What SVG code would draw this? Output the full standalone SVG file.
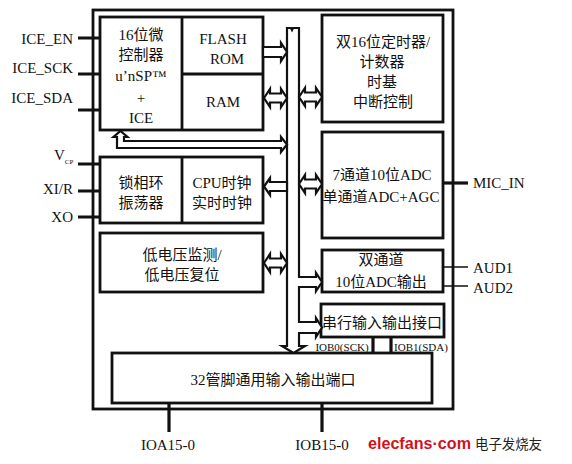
<svg xmlns="http://www.w3.org/2000/svg" width="572" height="464" viewBox="0 0 572 464">
<style>
.box{fill:none;stroke:#111;stroke-width:2.8}
.t{font-family:"Liberation Serif","Noto Sans CJK SC",serif;font-size:15px;fill:#111;text-anchor:middle}
.pl{font-family:"Liberation Serif","Noto Sans CJK SC",serif;font-size:15px;fill:#111;text-anchor:end}
.pr{font-family:"Liberation Serif","Noto Sans CJK SC",serif;font-size:15px;fill:#111;text-anchor:start}
.sm{font-family:"Liberation Serif","Noto Sans CJK SC",serif;font-size:11px;fill:#111;text-anchor:middle}
.ha{fill:#fff;stroke:#111;stroke-width:2.2;stroke-linejoin:miter}
.pin{stroke:#111;stroke-width:3.2;fill:none}
.thin{stroke:#111;stroke-width:1.6;fill:none}
</style>
<rect width="572" height="464" fill="#fff"/>
<g id="chip"><rect class="box" x="93" y="10" width="360" height="399"/></g>
<g id="mcu">
<rect class="box" x="100" y="17" width="163" height="113"/>
<line class="box" x1="182" y1="17" x2="182" y2="130"/>
<text class="t" x="141" y="40">16位微</text>
<text class="t" x="141" y="60">控制器</text>
<text class="t" x="141" y="81">u’nSP™</text>
<text class="t" x="141" y="103">+</text>
<text class="t" x="141" y="123">ICE</text>
</g>
<g id="flash-rom">
<line class="box" x1="182" y1="74" x2="263" y2="74"/>
<text class="t" x="223" y="44">FLASH</text>
<text class="t" x="227" y="64">ROM</text>
</g>
<g id="ram"><text class="t" x="223" y="107">RAM</text></g>
<g id="timer">
<rect class="box" x="322" y="15" width="121" height="107"/>
<text class="t" x="383" y="47">双16位定时器/</text>
<text class="t" x="382" y="67">计数器</text>
<text class="t" x="382" y="87">时基</text>
<text class="t" x="383" y="107">中断控制</text>
</g>
<g id="adc">
<rect class="box" x="322" y="132" width="121" height="106"/>
<text class="t" x="382" y="180">7通道10位ADC</text>
<text class="t" x="381" y="202">单通道ADC+AGC</text>
</g>
<g id="pll">
<rect class="box" x="100" y="157" width="163" height="66"/>
<line class="box" x1="182" y1="157" x2="182" y2="223"/>
<text class="t" x="141" y="188">锁相环</text>
<text class="t" x="141" y="208">振荡器</text>
</g>
<g id="cpuclk">
<text class="t" x="222" y="188">CPU时钟</text>
<text class="t" x="222" y="208">实时时钟</text>
</g>
<g id="lv">
<rect class="box" x="100" y="233" width="163" height="59"/>
<text class="t" x="182" y="260">低电压监测/</text>
<text class="t" x="182" y="280">低电压复位</text>
</g>
<g id="dac">
<rect class="box" x="322" y="250" width="121" height="42"/>
<text class="t" x="381" y="265">双通道</text>
<text class="t" x="381" y="287">10位ADC输出</text>
</g>
<g id="serial">
<rect class="box" x="321" y="304" width="123" height="33"/>
<text class="t" x="382" y="328">串行输入输出接口</text>
<text class="sm" x="342" y="351">IOB0(SCK)</text>
<text class="sm" x="421" y="351">IOB1(SDA)</text>
</g>
<g id="gpio">
<rect class="box" x="112" y="353" width="320" height="50"/>
<text class="t" x="273" y="385">32管脚通用输入输出端口</text>
</g>
<g id="pin-labels">
<text class="pl" x="73" y="44">ICE_EN</text>
<text class="pl" x="73" y="73">ICE_SCK</text>
<text class="pl" x="73" y="103">ICE_SDA</text>
<text class="pr" x="54" y="160" font-size="16">V<tspan font-size="7" dy="4">CP</tspan></text>
<text class="pl" x="73" y="194">XI/R</text>
<text class="pl" x="73" y="222">XO</text>
<text class="pr" x="473" y="188">MIC_IN</text>
<text class="pr" x="473" y="273">AUD1</text>
<text class="pr" x="473" y="293">AUD2</text>
<text class="t" x="168" y="450">IOA15-0</text>
<text class="t" x="322" y="450">IOB15-0</text>
</g>
<g id="connectors">
<path class="ha" d="M287,346 V28 H291 L292,30 L293,28 H299 V277 H316 V273 L322,282 L316,291 V287 H299 V322 H316 V318 L322,327.5 L316,337 V333 H299 V346 H305 L293.5,353 L282,346 Z"/>
<polygon class="ha" points="263,47 281,47 281,43 287,52 281,61 281,57 263,57"/>
<polygon class="ha" points="264,98 270,89 270,93.5 281,93.5 281,89 287,98 281,107 281,102.5 270,102.5 270,107"/>
<polygon class="ha" points="299,97 305,88 305,92.5 316,92.5 316,88 322,97 316,106 316,101.5 305,101.5 305,106"/>
<polygon class="ha" points="299,184 305,175 305,179.5 316,179.5 316,175 322,184 316,193 316,188.5 305,188.5 305,193"/>
<polygon class="ha" points="264,263 270,254 270,258.5 281,258.5 281,254 287,263 281,272 281,267.5 270,267.5 270,272"/>
<polygon class="ha" points="264,186.5 270,178 270,182 287,182 287,191 270,191 270,195"/>
<polygon class="ha" points="120.5,131 127.5,137 124,137 124,141 281,141 281,137 287,144.5 281,152 281,148 117,148 117,137 113.5,137"/>
<path class="pin" d="M78,38 H100 M78,74 H100 M78,110 H100 M78,164 H100 M78,191 H100 M78,217 H100"/>
<path class="pin" d="M443,183 H468" stroke-width="4.5"/>
<path class="thin" d="M443,267 H468 M443,286 H468"/>
<path class="pin" d="M373,337 V353 M391,337 V353" stroke-width="2"/>
<path class="pin" d="M169,403 V432 M322,403 V432"/>
</g>
<g id="watermark">
<text x="368" y="449" font-family="Liberation Sans,sans-serif" font-weight="bold" font-size="17" fill="#d0121b" textLength="103" lengthAdjust="spacingAndGlyphs">elecfans·com</text>
<text x="475" y="449" font-family="Noto Sans CJK SC,sans-serif" font-size="14" fill="#222" textLength="67" lengthAdjust="spacingAndGlyphs">电子发烧友</text>
</g>
</svg>
